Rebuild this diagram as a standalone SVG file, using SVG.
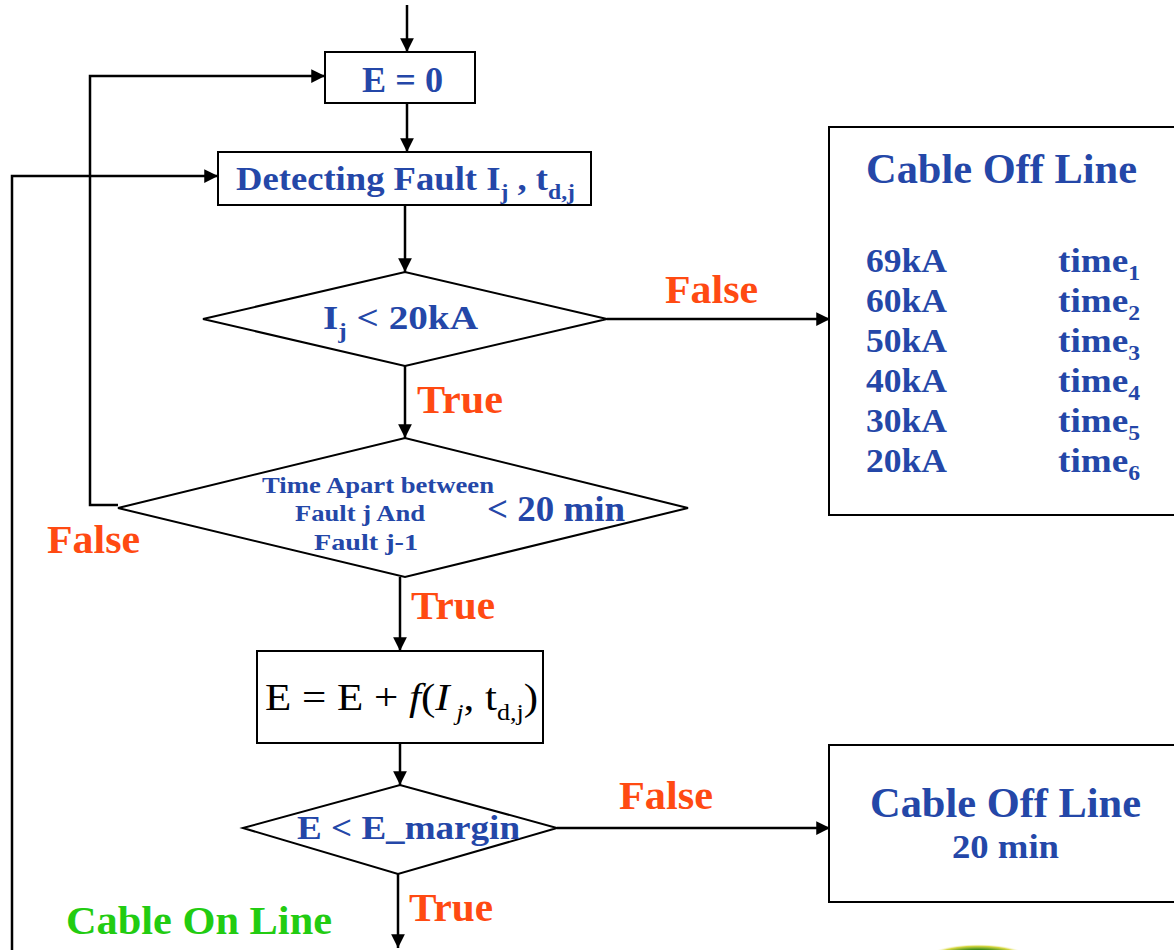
<svg xmlns="http://www.w3.org/2000/svg" width="1174" height="950" viewBox="0 0 1174 950">
<style>
.box{fill:#fff;stroke:#000;stroke-width:2}
.ln{fill:none;stroke:#000;stroke-width:2.5}
.bt{font-family:"Liberation Serif",serif;font-weight:bold;fill:#2447A8}
.rd{font-family:"Liberation Serif",serif;font-weight:bold;fill:#FF4A12;font-size:41px}
.fm{font-family:"Liberation Serif",serif;fill:#000;font-size:38px}
</style>
<defs>
<marker id="ah" viewBox="0 0 10 10" refX="10" refY="5" markerWidth="5.5" markerHeight="5.5" orient="auto" markerUnits="strokeWidth">
<path d="M0,0 L10,5 L0,10 z" fill="#000"/>
</marker>
<radialGradient id="gb" cx="0.5" cy="0.5" r="0.5">
<stop offset="0.6" stop-color="#3a8a1a"/>
<stop offset="0.85" stop-color="#d8d840"/>
<stop offset="1" stop-color="#fff" stop-opacity="0"/>
</radialGradient>
</defs>
<rect width="1174" height="950" fill="#fff"/>
<ellipse cx="978" cy="958" rx="52" ry="14" fill="url(#gb)"/>

<g id="connectors">
<line class="ln" x1="407" y1="5" x2="407" y2="52" marker-end="url(#ah)"/>
<line class="ln" x1="407" y1="103" x2="407" y2="152" marker-end="url(#ah)"/>
<line class="ln" x1="405" y1="205" x2="405" y2="272" marker-end="url(#ah)"/>
<line class="ln" x1="607" y1="319" x2="830" y2="319" marker-end="url(#ah)"/>
<line class="ln" x1="405" y1="366" x2="405" y2="438" marker-end="url(#ah)"/>
<polyline class="ln" points="118,505 90,505 90,76 325,76" marker-end="url(#ah)"/>
<polyline class="ln" points="12,950 12,176 218,176" marker-end="url(#ah)"/>
<line class="ln" x1="400" y1="577" x2="400" y2="651" marker-end="url(#ah)"/>
<line class="ln" x1="400" y1="743" x2="400" y2="785" marker-end="url(#ah)"/>
<line class="ln" x1="557" y1="828" x2="830" y2="828" marker-end="url(#ah)"/>
<line class="ln" x1="398" y1="874" x2="398" y2="948" marker-end="url(#ah)"/>
</g>

<g id="labels">
<text class="rd" x="665" y="303" textLength="93" lengthAdjust="spacingAndGlyphs">False</text>
<text class="rd" x="417" y="413" textLength="86" lengthAdjust="spacingAndGlyphs">True</text>
<text class="rd" x="47" y="553" textLength="93" lengthAdjust="spacingAndGlyphs">False</text>
<text class="rd" x="411" y="619" textLength="84" lengthAdjust="spacingAndGlyphs">True</text>
<text class="rd" x="619" y="809" textLength="94" lengthAdjust="spacingAndGlyphs">False</text>
<text class="rd" x="409" y="921" textLength="84" lengthAdjust="spacingAndGlyphs">True</text>
<text x="66" y="934" textLength="266" lengthAdjust="spacingAndGlyphs" style="font-family:'Liberation Serif',serif;font-weight:bold;fill:#22CC11;font-size:41px">Cable On Line</text>
</g>

<g id="n-e0">
<rect class="box" x="325" y="52" width="150" height="51"/>
<text class="bt" x="362" y="92" font-size="36" textLength="81" lengthAdjust="spacingAndGlyphs">E = 0</text>
</g>

<g id="n-detect">
<rect class="box" x="218" y="152" width="373" height="53"/>
<text class="bt" x="236" y="190" font-size="34" textLength="339" lengthAdjust="spacingAndGlyphs">Detecting Fault I<tspan font-size="22" dy="9">j</tspan><tspan dy="-9"> , t</tspan><tspan font-size="22" dy="9">d,j</tspan></text>
</g>

<g id="n-d1">
<polygon class="box" points="203,319 405,272 607,319 405,366"/>
<text class="bt" x="323" y="329" font-size="34" textLength="155" lengthAdjust="spacingAndGlyphs">I<tspan font-size="22" dy="9">j</tspan><tspan dy="-9">  &lt; 20kA</tspan></text>
</g>

<g id="n-d2">
<polygon class="box" points="118,508 405,438 688,508 405,577"/>
<text class="bt" x="262" y="493" font-size="24" textLength="232" lengthAdjust="spacingAndGlyphs">Time Apart between</text>
<text class="bt" x="295" y="521" font-size="24" textLength="130" lengthAdjust="spacingAndGlyphs">Fault j And</text>
<text class="bt" x="314" y="550" font-size="24" textLength="104" lengthAdjust="spacingAndGlyphs">Fault j-1</text>
<text class="bt" x="487" y="521" font-size="36" textLength="138" lengthAdjust="spacingAndGlyphs">&lt; 20 min</text>
</g>

<g id="n-calc">
<rect class="box" x="257" y="651" width="286" height="92" stroke-width="1.5"/>
<text class="fm" x="265" y="710" textLength="273" lengthAdjust="spacingAndGlyphs">E = E + <tspan font-style="italic">f</tspan>(<tspan font-style="italic">I</tspan><tspan font-size="23" font-style="italic" dy="10"> j</tspan><tspan dy="-10">, t</tspan><tspan font-size="23" dy="10">d,j</tspan><tspan dy="-10">)</tspan></text>
</g>

<g id="n-d3">
<polygon class="box" points="243,828 400,785 557,828 398,874"/>
<text class="bt" x="297" y="839" font-size="34" textLength="223" lengthAdjust="spacingAndGlyphs">E &lt; E_margin</text>
</g>

<g id="n-off1">
<rect class="box" x="829" y="127" width="360" height="388"/>
<text class="bt" x="866" y="183" font-size="43" textLength="271" lengthAdjust="spacingAndGlyphs">Cable Off Line</text>
<g font-size="33">
<text class="bt" x="866" y="272" textLength="81" lengthAdjust="spacingAndGlyphs">69kA</text>
<text class="bt" x="866" y="312" textLength="81" lengthAdjust="spacingAndGlyphs">60kA</text>
<text class="bt" x="866" y="352" textLength="81" lengthAdjust="spacingAndGlyphs">50kA</text>
<text class="bt" x="866" y="392" textLength="81" lengthAdjust="spacingAndGlyphs">40kA</text>
<text class="bt" x="866" y="432" textLength="81" lengthAdjust="spacingAndGlyphs">30kA</text>
<text class="bt" x="866" y="472" textLength="81" lengthAdjust="spacingAndGlyphs">20kA</text>
<text class="bt" x="1058" y="272" textLength="82" lengthAdjust="spacingAndGlyphs">time<tspan font-size="21" dy="8">1</tspan></text>
<text class="bt" x="1058" y="312" textLength="82" lengthAdjust="spacingAndGlyphs">time<tspan font-size="21" dy="8">2</tspan></text>
<text class="bt" x="1058" y="352" textLength="82" lengthAdjust="spacingAndGlyphs">time<tspan font-size="21" dy="8">3</tspan></text>
<text class="bt" x="1058" y="392" textLength="82" lengthAdjust="spacingAndGlyphs">time<tspan font-size="21" dy="8">4</tspan></text>
<text class="bt" x="1058" y="432" textLength="82" lengthAdjust="spacingAndGlyphs">time<tspan font-size="21" dy="8">5</tspan></text>
<text class="bt" x="1058" y="472" textLength="82" lengthAdjust="spacingAndGlyphs">time<tspan font-size="21" dy="8">6</tspan></text>
</g>
</g>

<g id="n-off2">
<rect class="box" x="829" y="745" width="360" height="157" stroke="#444"/>
<text class="bt" x="870" y="817" font-size="42" textLength="271" lengthAdjust="spacingAndGlyphs">Cable Off Line</text>
<text class="bt" x="952" y="858" font-size="34" textLength="107" lengthAdjust="spacingAndGlyphs">20 min</text>
</g>
</svg>
